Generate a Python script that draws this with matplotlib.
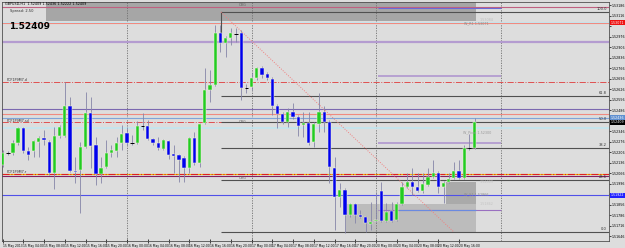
import numpy as np
import matplotlib.pyplot as plt
from matplotlib.patches import Rectangle

symbol = "GBPUSD,H1"
bid = 1.52409

# hourly bars, 15 May 2013 00:00 -> 20 May 2013 19:00
opens = [1.52122, 1.52202, 1.52202, 1.52269, 1.52369, 1.52216, 1.52216, 1.52276, 1.52302, 1.52276,
         1.52069, 1.52316, 1.52316, 1.52516, 1.52082, 1.52089, 1.52242, 1.52469, 1.52256, 1.52062,
         1.52109, 1.52202, 1.52216, 1.52269, 1.52336, 1.52269, 1.52269, 1.52382, 1.52382, 1.52296,
         1.52269, 1.52229, 1.52282, 1.52196, 1.52189, 1.52169, 1.52102, 1.52302, 1.52136, 1.52402,
         1.52622, 1.52656, 1.53002, 1.52936, 1.52969, 1.52996, 1.53002, 1.52636, 1.52642, 1.52702,
         1.52769, 1.52729, 1.52696, 1.52516, 1.52462, 1.52409, 1.52476, 1.52442, 1.52389, 1.52402,
         1.52276, 1.52396, 1.52476, 1.52409, 1.52102, 1.51909, 1.51956, 1.51789, 1.51862, 1.51789,
         1.51776, 1.51729, 1.51749, 1.51949, 1.51749, 1.51816, 1.51756, 1.51862, 1.51976, 1.52009,
         1.51976, 1.51949, 1.51989, 1.52042, 1.52069, 1.51976, 1.52009, 1.52036, 1.52082, 1.52036,
         1.52236, 1.52236]
highs = [1.52222, 1.52216, 1.52289, 1.52376, 1.52376, 1.52242, 1.52289, 1.52316, 1.52356, 1.52289,
         1.52376, 1.52389, 1.52676, 1.52576, 1.52176, 1.52276, 1.52609, 1.52576, 1.52309, 1.52176,
         1.52289, 1.52256, 1.52309, 1.52389, 1.52376, 1.52322, 1.52416, 1.52469, 1.52422, 1.52302,
         1.52309, 1.52296, 1.52289, 1.52256, 1.52196, 1.52182, 1.52309, 1.52342, 1.52402, 1.52769,
         1.52756, 1.53056, 1.53056, 1.52982, 1.53036, 1.53036, 1.53022, 1.52662, 1.52736, 1.52776,
         1.52782, 1.52742, 1.52709, 1.52529, 1.52476, 1.52502, 1.52536, 1.52456, 1.52476, 1.52476,
         1.52409, 1.52602, 1.52516, 1.52422, 1.52176, 1.52002, 1.51969, 1.51869, 1.51869, 1.51822,
         1.51782, 1.51876, 1.51942, 1.52009, 1.51869, 1.51876, 1.51876, 1.52009, 1.52069, 1.52102,
         1.52069, 1.52069, 1.52102, 1.52156, 1.52082, 1.52016, 1.52069, 1.52142, 1.52156, 1.52256,
         1.52329, 1.52436]
lows = [1.52109, 1.52189, 1.52189, 1.52256, 1.52202, 1.52156, 1.52176, 1.52176, 1.52256, 1.52056,
        1.51962, 1.52302, 1.52309, 1.52076, 1.52002, 1.51802, 1.52236, 1.52102, 1.51989, 1.52002,
        1.52102, 1.52176, 1.52176, 1.52222, 1.52256, 1.52256, 1.52262, 1.52356, 1.52289, 1.52256,
        1.52222, 1.52222, 1.52162, 1.52069, 1.52009, 1.52009, 1.52069, 1.52122, 1.52109, 1.52396,
        1.52542, 1.52649, 1.52876, 1.52842, 1.52922, 1.52942, 1.52556, 1.52602, 1.52622, 1.52689,
        1.52702, 1.52689, 1.52456, 1.52369, 1.52396, 1.52376, 1.52429, 1.52316, 1.52309, 1.52256,
        1.52242, 1.52342, 1.52342, 1.52002, 1.51689, 1.51842, 1.51669, 1.51776, 1.51736, 1.51769,
        1.51676, 1.51689, 1.51742, 1.51742, 1.51742, 1.51742, 1.51749, 1.51856, 1.51969, 1.51922,
        1.51942, 1.51936, 1.51982, 1.52036, 1.51936, 1.51869, 1.52002, 1.52029, 1.52029, 1.52029,
        1.52222, 1.52229]
closes = [1.52202, 1.52202, 1.52269, 1.52369, 1.52216, 1.52189, 1.52282, 1.52302, 1.52289, 1.52069,
          1.52316, 1.52376, 1.52516, 1.52082, 1.52076, 1.52242, 1.52469, 1.52249, 1.52062, 1.52102,
          1.52202, 1.52222, 1.52269, 1.52329, 1.52269, 1.52269, 1.52382, 1.52382, 1.52296, 1.52269,
          1.52236, 1.52289, 1.52189, 1.52182, 1.52156, 1.52102, 1.52302, 1.52136, 1.52396, 1.52622,
          1.52656, 1.53002, 1.52936, 1.52969, 1.53002, 1.52996, 1.52636, 1.52636, 1.52702, 1.52769,
          1.52722, 1.52702, 1.52516, 1.52462, 1.52409, 1.52476, 1.52442, 1.52382, 1.52402, 1.52269,
          1.52396, 1.52476, 1.52409, 1.52109, 1.51909, 1.51956, 1.51789, 1.51862, 1.51789, 1.51776,
          1.51736, 1.51742, 1.51756, 1.51749, 1.51809, 1.51749, 1.51862, 1.51976, 1.52009, 1.51976,
          1.51949, 1.51996, 1.52042, 1.52069, 1.51976, 1.52002, 1.52029, 1.52082, 1.52036, 1.52236,
          1.52236, 1.52409]

time_labels = ["15 May 2013", "15 May 04:00", "15 May 08:00", "15 May 12:00", "15 May 16:00",
               "15 May 20:00", "16 May 00:00", "16 May 04:00", "16 May 08:00", "16 May 12:00",
               "16 May 16:00", "16 May 20:00", "17 May 00:00", "17 May 04:00", "17 May 08:00",
               "17 May 12:00", "17 May 16:00", "17 May 20:00", "20 May 00:00", "20 May 04:00",
               "20 May 08:00", "20 May 12:00", "20 May 16:00"]
day_starts = [24, 48, 72, 96]

# fibonacci retracement drawn from bar 42 to bar 88
fib_high = 1.53142
fib_low = 1.51676
fib_ratios = [0.0, 23.6, 38.2, 50.0, 61.8, 100.0]

# full-width horizontal levels
level_prices = [1.53178, 1.53071, 1.53076, 1.52942, 1.52676, 1.52496, 1.52462,
                1.52436, 1.52406, 1.52369, 1.52062, 1.52049, 1.51922]
level_names = ["", "", "", "", "PCF1P9M7.d", "", "", "", "PCF1P9M7.sd", "", "PCF1P9M7.r", "", ""]
level_styles = [('#c06080', '-', 0.8), ('#f08a80', '-', 0.8), ('#bfe6f0', '-', 0.6),
                ('#b49cd0', '-', 1.6), ('#e05050', '-.', 0.7), ('#7b68b0', '-', 0.8),
                ('#f08a80', '-', 0.8), ('#7fa4d8', '-', 0.8), ('#e05050', '-.', 0.7),
                ('#c2e6f0', '-', 1.2), ('#e02020', '-.', 0.8), ('#802060', '-', 0.8),
                ('#5050e8', '-', 0.8)]

# weekly pivot segments (20 May -> 21 May)
week_prices = [1.53169, 1.52716, 1.52269, 1.51822]
week_colors = ['#6a6ad8', '#b49cd0', '#b49cd0', '#9a70c0']

# price boxes on the right scale
marker_prices = [1.53071, 1.52436, bid, 1.51922]
marker_colors = ['#ee1111', '#5f8fd0', 'black', '#2020ff']

bg = '#dddddd'
fig = plt.figure(figsize=(6.25, 2.48), dpi=100, facecolor=bg)
ax = fig.add_axes([2 / 625, 7 / 248, 607 / 625, 239 / 248])
ax.set_facecolor(bg)
ax.set_xlim(-0.1, 116.9)
ax.set_ylim(1.51616, 1.53209)

# zones
ax.add_patch(Rectangle((8.3, 1.53084), 82.9, 0.002, fc='#a6a6a6', ec='none', zorder=0.5))
ax.add_patch(Rectangle((66.2, 1.51669), 25.0, 0.00193, fc='#bcbcbc', ec='none', zorder=0.5))
ax.add_patch(Rectangle((85.4, 1.51862), 5.8, 0.00147, fc='#aaaaaa', ec='none', zorder=0.6))

# separators
for d in day_starts:
    ax.axvline(d, color='#707070', lw=0.6, ls=(0, (1.5, 1.5)), zorder=1)

# levels
for p, name, (c, ls, lw) in zip(level_prices, level_names, level_styles):
    if name.endswith('.r'):
        ax.axhline(p, color='#f0c000', lw=lw, zorder=1.1)
    ax.axhline(p, color=c, ls=ls, lw=lw, zorder=1.2)
    if name:
        ax.text(0.8, p + 0.00006, name, fontsize=2.4, color='#303030', zorder=4)

for p, c in zip(week_prices, week_colors):
    ax.hlines(p, 72.3, 96.0, color=c, lw=1.3 if c == '#b49cd0' else 0.8, zorder=1.3)
ax.hlines(week_prices[3], 76.5, 91.2, color='#6a8ae0', lw=0.8, zorder=1.4)

# fibonacci
for r in fib_ratios:
    p = fib_low + (fib_high - fib_low) * r / 100
    ax.hlines(p, 42.1, 116.9, color='#505050', lw=0.8, zorder=1.5)
    ax.text(116.5, p + 0.00004, f"{r:.1f}", fontsize=2.6, color='#303030', ha='right', va='bottom', zorder=4)
ax.plot([42.1, 42.1], [fib_high, 1.53002], color='#505050', lw=0.8, zorder=1.5)
ax.plot([42.1, 87.0], [fib_high, fib_low], color='#f08080', lw=0.7, ls=(0, (1, 1.5)), zorder=1.6)
for p in [1.53186, 1.52409, 1.52036]:
    ax.text(45.5, p, "ORG", fontsize=2.4, color='#606060', va='center', zorder=4)

# candles
x = np.arange(len(opens))
o = np.array(opens); h = np.array(highs); l = np.array(lows); c = np.array(closes)
ax.vlines(x, l, h, color='#8585a8', lw=0.6, zorder=3)
up = c > o
dn = c < o
ax.bar(x[up], (c - o)[up], bottom=o[up], width=0.62, color='#22cc22', edgecolor='#f4f4dc', linewidth=0.35, zorder=3.5)
ax.bar(x[dn], (o - c)[dn], bottom=c[dn], width=0.62, color='#0000ee', edgecolor='#f4f4dc', linewidth=0.35, zorder=3.5)
dj = c == o
ax.hlines(c[dj], x[dj] - 0.35, x[dj] + 0.35, color='black', lw=0.7, zorder=3.6)

# labels on chart
ax.text(0.5, 1.53196, "GBPUSD,H1  1.52409 1.52436 1.52222 1.52409", fontsize=2.4, color='black', va='center', zorder=5)
ax.text(1.5, 1.53148, "Spread: 2.50", fontsize=2.6, color='#303030', va='center', zorder=5)
ax.text(1.3, 1.53047, f"{bid:.5f}", fontsize=6.5, fontweight='bold', color='black', va='center', zorder=5)
ax.text(89.0, 1.53064, "W_R1 1.53071", fontsize=2.4, color='#8a8a8a', va='center', zorder=5)
ax.text(92.0, 1.53090, "1.53084", fontsize=2.4, color='#bdbdbd', va='center', zorder=5)
ax.text(88.8, 1.52341, "W_Pivot 1.52300", fontsize=2.4, color='#9a9a9a', va='center', zorder=5)
ax.text(89.0, 1.51926, "W_S1 1.51866", fontsize=2.4, color='#8a8a8a', va='center', zorder=5)
ax.text(92.0, 1.52009, "1.52009", fontsize=2.4, color='#c4c4c4', va='center', zorder=5)
ax.text(92.0, 1.51862, "1.51862", fontsize=2.4, color='#c4c4c4', va='center', zorder=5)

# price axis: boxed prices cover the regular labels next to them
ax.yaxis.tick_right()
ticks = 1.52416 + 0.0007 * np.arange(-11, 12)
ax.set_yticks(ticks)
tick_text = []
for t in ticks:
    near = min(abs(t - m) for m in marker_prices) < 0.0004
    tick_text.append("" if near else f"{t:.5f}")
ax.set_yticklabels(tick_text)
ax.tick_params(axis='y', length=1.5, width=0.5, pad=0.3, labelsize=2.3, colors='black')

tr = ax.get_yaxis_transform()
for p, fc in zip(marker_prices, marker_colors):
    ax.text(1.003, p, f"{p:.5f}", transform=tr, fontsize=2.3, color='white', va='center', ha='left',
            bbox=dict(boxstyle='square,pad=0.15', fc=fc, ec='none'), clip_on=False, zorder=6)

# time axis
ax.set_xticks(np.arange(len(time_labels)) * 4)
ax.set_xticklabels(time_labels, ha='left')
ax.tick_params(axis='x', length=3, width=0.5, pad=0.5, labelsize=2.2, direction='inout')

for s in ax.spines.values():
    s.set_color('#505050')
    s.set_linewidth(0.6)

fig.savefig('out.png', dpi=100, facecolor=bg)
